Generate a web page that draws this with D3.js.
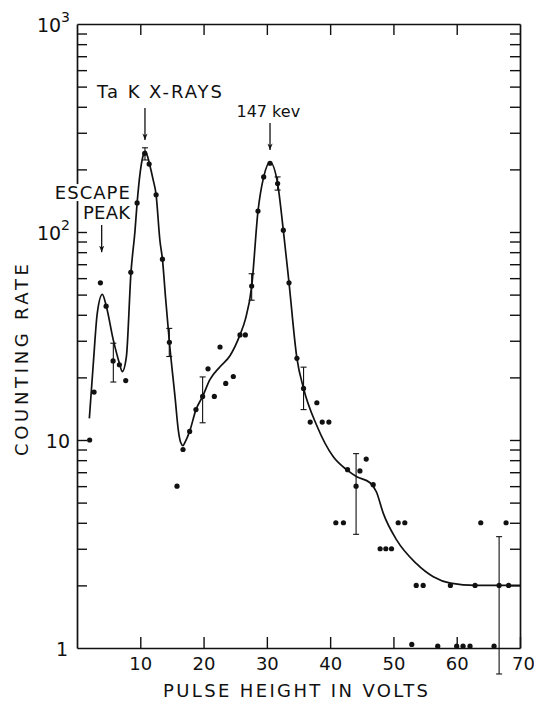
<!DOCTYPE html>
<html>
<head>
<meta charset="utf-8">
<script src="https://cdn.jsdelivr.net/npm/d3@7"></script>
<style>
  body { margin: 0; background: #fff; }
  svg { display: block; font-family: "DejaVu Sans", sans-serif; }
</style>
</head>
<body>
<div id="chart"></div>
<script>
// measured points (pulse height in volts, counting rate)
const pointVolts = [2.0, 2.7, 3.7, 4.6, 5.7, 6.7, 7.7, 8.5, 9.5, 10.7, 11.4, 12.5, 13.5, 14.6, 15.8,
  16.75, 17.8, 18.8, 19.85, 20.7, 21.7, 22.6, 23.5, 24.7, 25.75, 26.6, 27.6, 28.6, 29.5, 30.5,
  31.7, 32.6, 33.5, 34.75, 35.8, 36.85, 37.9, 38.75, 39.8, 40.9, 42.1, 42.75, 44.1, 44.7, 45.7,
  46.8, 47.9, 48.8, 49.7, 50.75, 51.8, 52.9, 53.6, 54.7, 57.0, 59.0, 60.0, 61.0, 62.1, 62.9,
  63.8, 65.9, 66.7, 67.8, 68.2];
const pointRate = [10, 17, 57, 44, 24, 23, 19.3, 64, 138, 239, 212, 151, 74, 29.5, 6.0,
  9, 11, 14, 16.2, 22, 16.2, 28, 18.7, 20.2, 32, 32, 55, 126, 184, 214,
  171, 102, 57, 24.7, 17.7, 12.2, 15.1, 12.2, 12.2, 4, 4, 7.2, 6.0, 7.1, 8.1,
  6.1, 3, 3, 3, 4, 4, 1.04, 2, 2, 1.02, 2, 1.02, 1.02, 1.02, 2,
  4, 1.02, 2, 4, 2];

// hand-drawn smooth curve
const curveVolts = [1.95, 2.58, 3.2, 4.0, 4.63, 5.74, 6.7, 7.15, 7.8, 8.53, 9.16, 9.5, 10.0, 10.4,
  10.8, 11.2, 11.5, 12.0, 12.5, 13.1, 13.5, 14.0, 14.6, 15.5, 16.0, 16.4, 16.75, 17.1, 17.8,
  18.8, 19.85, 21.0, 22.6, 24.2, 25.75, 26.6, 27.6, 28.6, 29.5, 30.5, 31.7, 32.6, 33.5, 34.75,
  35.8, 37.85, 40.5, 42.6, 44.2, 46.3, 47.3, 48.4, 50.5, 53.6, 56.3, 59.0, 63.0, 70.0];
const curveRate = [12.7, 23.4, 40.6, 50.1, 44, 30.2, 23.4, 21.3, 25.1, 64, 101, 138, 195, 230,
  244, 228, 210, 180, 151, 91, 74, 48, 29.5, 16, 11.2, 9.7, 9.4, 9.8, 11,
  14, 16.2, 19.5, 22.5, 25.5, 32, 38, 54.6, 126, 184, 217, 171, 102, 57, 24.7,
  17.7, 11.8, 8.3, 7.2, 6.66, 6.23, 5.64, 4.44, 3.31, 2.55, 2.2, 2.05, 2.0, 2.0];

// error bars
const errVolts = [5.74, 10.74, 14.58, 19.85, 27.6, 31.7, 35.8, 44.1, 66.7];
const errLow = [19.0, 222, 25.2, 12.1, 47, 159, 14.0, 3.52, 0.75];
const errHigh = [29.2, 254, 34.4, 20.1, 63, 184, 22.4, 8.6, 3.43];

const xTickValues = [10, 20, 30, 40, 50, 60, 70];
const yLabels = [{v: 1000, base: '10', sup: '3'}, {v: 100, base: '10', sup: '2'}, {v: 10, base: '10', sup: ''}];

const W = 534, H = 702;
const margin = {top: 24, right: 14, bottom: 54, left: 77};
const width = W - margin.left - margin.right;
const height = H - margin.top - margin.bottom;

const svg = d3.select('#chart').append('svg').attr('width', W).attr('height', H);
const g = svg.append('g').attr('transform', `translate(${margin.left},${margin.top})`);

const x = d3.scaleLinear().domain([0, 70]).range([0, width]);
const y = d3.scaleLog().domain([1, 1000]).range([height, 0]);

// minor log ticks 2..9 in each decade plus the decade marks
const logTicks = [];
[1, 10, 100].forEach(d => { for (let m = 1; m <= 9; m++) if (d * m > 1) logTicks.push(d * m); });

function styleAxis(sel) {
  sel.selectAll('path').attr('stroke', '#111').attr('stroke-width', 1.7);
  sel.selectAll('line').attr('stroke', '#111').attr('stroke-width', 1.4);
}

g.append('g').call(d3.axisLeft(y).tickValues(logTicks).tickSizeInner(-10).tickSizeOuter(0).tickFormat('')).call(styleAxis);
g.append('g').attr('transform', `translate(${width},0)`)
  .call(d3.axisRight(y).tickValues(logTicks).tickSizeInner(-10).tickSizeOuter(0).tickFormat('')).call(styleAxis);
g.append('g').call(d3.axisTop(x).tickValues(xTickValues.slice(0, -1)).tickSizeInner(-11).tickSizeOuter(0).tickFormat('')).call(styleAxis);
const xb = g.append('g').attr('transform', `translate(0,${height})`)
  .call(d3.axisBottom(x).tickValues(xTickValues).tickSizeInner(-11).tickSizeOuter(0).tickPadding(9).tickFormat(d3.format('d')))
  .call(styleAxis);
xb.selectAll('text').attr('font-family', '"DejaVu Sans", sans-serif').attr('font-size', 18).attr('fill', '#111');
xb.selectAll('.tick').filter(d => d === 70).select('text').attr('dx', 3);

// y labels like 10^3
yLabels.forEach(l => {
  const t = g.append('text').attr('x', -7).attr('y', y(l.v) + 8)
    .attr('text-anchor', 'end').attr('font-size', 19).attr('fill', '#111');
  t.append('tspan').text(l.base);
  if (l.sup) t.append('tspan').attr('dy', -10).attr('font-size', 14).text(l.sup);
});
g.append('text').attr('x', -15).attr('y', y(1) + 8).attr('text-anchor', 'middle')
  .attr('font-size', 19).attr('fill', '#111').text('1');

// axis titles
svg.append('text').attr('x', 163).attr('y', 697).attr('font-size', 18).attr('fill', '#111')
  .attr('textLength', 265).attr('lengthAdjust', 'spacing').text('PULSE HEIGHT IN VOLTS');
svg.append('text').attr('transform', 'translate(28,456) rotate(-90)').attr('font-size', 18).attr('fill', '#111')
  .attr('textLength', 192).attr('lengthAdjust', 'spacing').text('COUNTING RATE');

// curve
const line = d3.line().x((d, i) => x(curveVolts[i])).y((d, i) => y(curveRate[i])).curve(d3.curveMonotoneX);
g.append('path').datum(curveVolts).attr('d', line).attr('fill', 'none').attr('stroke', '#111').attr('stroke-width', 1.7);

// error bars
errVolts.forEach((v, i) => {
  const eb = g.append('g').attr('stroke', '#111').attr('stroke-width', 1.1);
  eb.append('line').attr('x1', x(v)).attr('x2', x(v)).attr('y1', y(errLow[i])).attr('y2', y(errHigh[i]));
  [errLow[i], errHigh[i]].forEach(e => eb.append('line').attr('x1', x(v) - 3).attr('x2', x(v) + 3).attr('y1', y(e)).attr('y2', y(e)));
});

// points
g.selectAll('.dot').data(pointVolts).enter().append('circle')
  .attr('cx', d => x(d)).attr('cy', (d, i) => y(pointRate[i])).attr('r', 2.6).attr('fill', '#111');

// annotations
svg.append('defs').append('marker').attr('id', 'head').attr('viewBox', '0 0 10 10').attr('refX', 10).attr('refY', 5)
  .attr('markerWidth', 5).attr('markerHeight', 8).attr('orient', 'auto')
  .append('path').attr('d', 'M0,1 L10,5 L0,9 L3,5 Z').attr('fill', '#111');

const arrows = [{v: 10.74, from: 395, to: 277}, {v: 30.5, from: 334, to: 248}, {v: 3.9, from: 108, to: 80}];
arrows.forEach(a => g.append('line').attr('x1', x(a.v)).attr('x2', x(a.v)).attr('y1', y(a.from)).attr('y2', y(a.to))
  .attr('stroke', '#111').attr('stroke-width', 1.3).attr('marker-end', 'url(#head)'));

const notes = [
  {text: 'Ta K X-RAYS', v: 3.16, r: 441, size: 18, len: 125},
  {text: '147 kev', v: 25.2, r: 357, size: 16, len: null},
  {text: 'ESCAPE', v: -3.5, r: 144, size: 18, len: 75, bg: true},
  {text: 'PEAK', v: 0.95, r: 115.5, size: 18, len: 47}
];
notes.forEach(n => {
  const t = g.append('text').attr('x', x(n.v)).attr('y', y(n.r))
    .attr('font-size', n.size).attr('fill', '#111').text(n.text);
  if (n.len) t.attr('textLength', n.len).attr('lengthAdjust', 'spacing');
  if (n.bg) {
    const b = t.node().getBBox();
    g.insert('rect', () => t.node()).attr('x', b.x - 1).attr('y', b.y + 2).attr('width', b.width + 2).attr('height', b.height - 4).attr('fill', '#fff');
  }
});
</script>
</body>
</html>
